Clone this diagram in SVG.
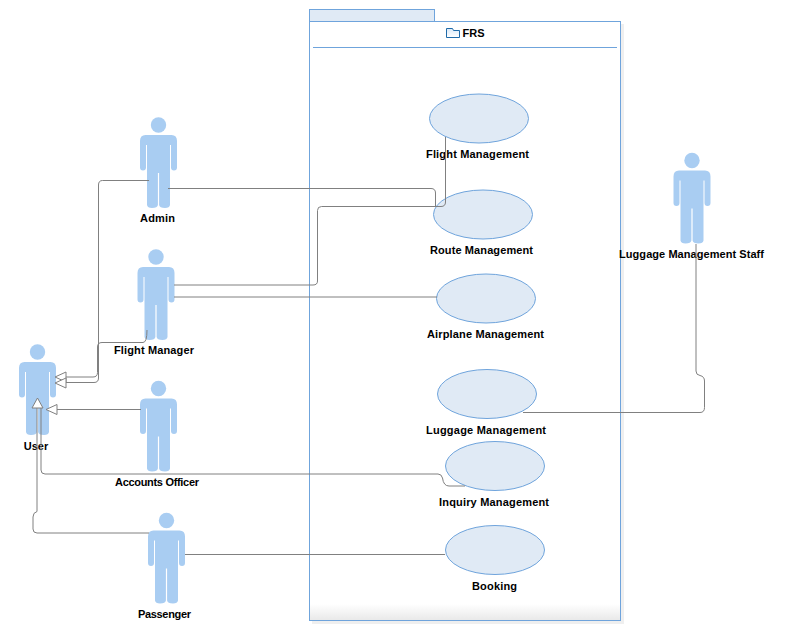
<svg xmlns="http://www.w3.org/2000/svg" width="786" height="636" viewBox="0 0 786 636">
<style>
text{font-family:"Liberation Sans",Arial,sans-serif;font-size:11px;font-weight:bold;fill:#000;text-anchor:middle}
.uc{fill:#e0eaf5;stroke:#6fa4dc;stroke-width:1}
.actor{fill:#a9cdf2}
.c{fill:none;stroke:#808080;stroke-width:1}
.g{fill:#fff;stroke:#808080;stroke-width:1}
.p{stroke:#6fa4dc;stroke-width:1}
</style>
<defs>
<linearGradient id="fade" x1="0" y1="0" x2="0" y2="1"><stop offset="0" stop-color="#fff"/><stop offset="1" stop-color="#e9e9e9"/></linearGradient>
<linearGradient id="fold" x1="0" y1="0" x2="0" y2="1"><stop offset="0" stop-color="#d9e9f8"/><stop offset="1" stop-color="#fff"/></linearGradient>
<symbol id="actor" overflow="visible">
<circle cx="0" cy="0" r="7.7"/>
<path d="M-13,10H13Q18.5,10 18.5,16V42.5Q18.5,45.500 15.500,45.500Q12.500,45.500 12.500,42.500V20H11.500V80Q11,83 6.500,83Q1,83 .6,80V48H-.6V80Q-1,83 -6.500,83Q-11,83 -11.500,80V20H-12.500V42.500Q-12.500,45.500 -15.500,45.500Q-18.500,45.500 -18.500,42.500V16Q-18.500,10 -13,10Z"/>
</symbol>
</defs>
<g id="package-FRS">
<rect x="312" y="24" width="312" height="600" fill="#efefef"/>
<rect x="309.500" y="9.500" width="125" height="12" fill="#e0eaf5" class="p"/>
<rect x="309.500" y="21.500" width="311" height="599" fill="#fff"/>
<rect x="310" y="604" width="310" height="16" fill="url(#fade)"/>
<rect x="309.500" y="21.500" width="311" height="599" fill="none" class="p"/>
<path d="M313,47.500H617" class="p" fill="none"/>
<path d="M446.500,37.500V28.500H452.500L453.500,30.500H459.500V37.500Z" fill="url(#fold)" stroke="#1f6aa8"/>
<text x="473.500" y="37">FRS</text>
</g>
<g id="uc-flight"><ellipse cx="479" cy="118.500" rx="49.500" ry="24.500" class="uc"/><text x="477.500" y="158" textLength="103">Flight Management</text></g>
<g id="uc-route"><ellipse cx="483" cy="214.500" rx="49.500" ry="24.500" class="uc"/><text x="481.500" y="254" textLength="103">Route Management</text></g>
<g id="uc-airplane"><ellipse cx="486" cy="298.500" rx="49.500" ry="24.500" class="uc"/><text x="485.500" y="338" textLength="117">Airplane Management</text></g>
<g id="uc-luggage"><ellipse cx="487" cy="394" rx="49.500" ry="24.500" class="uc"/><text x="486" y="434" textLength="120">Luggage Management</text></g>
<g id="uc-inquiry"><ellipse cx="495" cy="466" rx="49.500" ry="24.500" class="uc"/><text x="494" y="506" textLength="110">Inquiry Management</text></g>
<g id="uc-booking"><ellipse cx="495" cy="550" rx="49.500" ry="24.500" class="uc"/><text x="494.500" y="590" textLength="45">Booking</text></g>
<g id="actor-admin"><use href="#actor" x="158.500" y="125" class="actor"/><text x="157.500" y="222" textLength="35">Admin</text></g>
<g id="actor-flight-manager"><use href="#actor" x="156" y="257" class="actor"/><text x="154" y="354" textLength="80">Flight Manager</text></g>
<g id="actor-user"><use href="#actor" x="37.500" y="352" class="actor"/><text x="36" y="450">User</text></g>
<g id="actor-accounts"><use href="#actor" x="158.500" y="388.500" class="actor"/><text x="157" y="486" textLength="84">Accounts Officer</text></g>
<g id="actor-passenger"><use href="#actor" x="166.500" y="520.500" class="actor"/><text x="164.500" y="618" textLength="53">Passenger</text></g>
<g id="actor-luggage-staff"><use href="#actor" x="692" y="160.500" class="actor"/><text x="691.500" y="258" textLength="145">Luggage Management Staff</text></g>
<g id="connectors">
<path class="c" d="M168,188.500H431Q435.500,188.500 435.500,193V206.500"/>
<path class="c" d="M174,285H313Q317.500,285 317.500,281V210.500Q317.500,206.500 321.500,206.500H441Q445.500,206.500 445.500,202V137"/>
<path class="c" d="M174,297H437"/>
<path class="c" d="M149,180.500H102.500Q98.500,180.500 98.500,185V378Q98.500,382.500 94,382.500H66"/>
<path class="c" d="M147,330Q147,342.500 143,342.500H102Q97.500,342.500 97.500,347V372.500Q97.500,377 93,377H66"/>
<path class="c" d="M141,409.500H57"/>
<path class="c" d="M41,408V470Q41,474 45,474H438Q441.500,474 442.500,478Q443.500,486 449,486H465"/>
<path class="c" d="M149,533H37Q33,533 33,529V517Q33,512.500 37,511.500V408"/>
<path class="c" d="M185,554.500H445"/>
<path class="c" d="M696,244V371Q696,375 700,375.500Q704.500,376.500 704.500,381V407.500Q704.500,412.500 700,412.500H523"/>
<path class="g" d="M55,377L66,372V382Z"/>
<path class="g" d="M55,383L66,378V388Z"/>
<path class="g" d="M46,409.500L57,404.500V414.500Z"/>
<path class="g" d="M37.500,398L43,408H32Z"/>
</g>
</svg>
